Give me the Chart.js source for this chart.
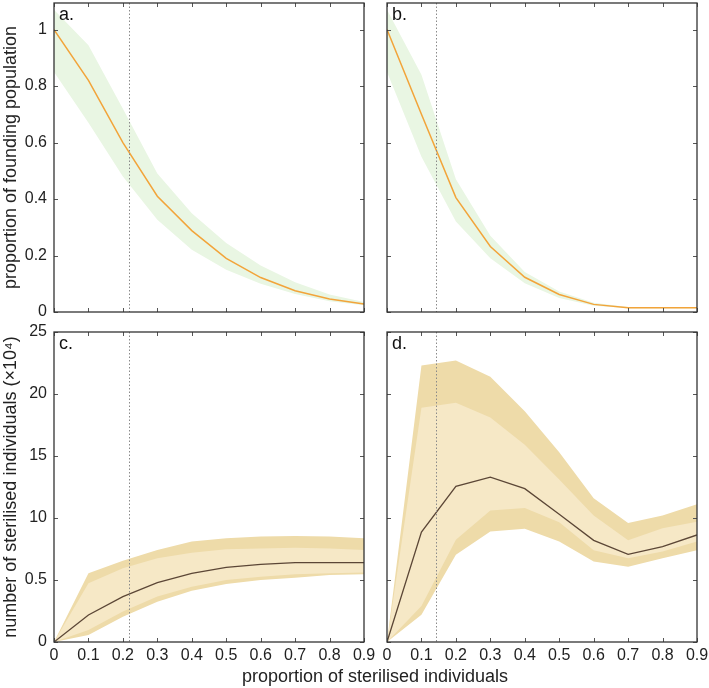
<!DOCTYPE html>
<html>
<head>
<meta charset="utf-8">
<script src="https://cdn.jsdelivr.net/npm/chart.js@4"></script>
<style>
  body { margin: 0; background: #fff; overflow: hidden; width: 709px; height: 688px; position: relative;
         font-family: "Liberation Sans", Arial, sans-serif; }
  canvas { position: absolute; }
  #xtitle { position: absolute; left: 375px; top: 666px; transform: translateX(-50%);
            font-size: 18px; color: #222; white-space: nowrap; }
</style>
</head>
<body>
<canvas id="pa" width="380" height="330" style="left:0;top:0;width:380px;height:330px"></canvas>
<canvas id="pb" width="337" height="330" style="left:372px;top:0;width:337px;height:330px"></canvas>
<canvas id="pc" width="380" height="350" style="left:0;top:320px;width:380px;height:350px"></canvas>
<canvas id="pd" width="337" height="350" style="left:372px;top:320px;width:337px;height:350px"></canvas>
<div id="xtitle">proportion of sterilised individuals</div>
<script>
// proportion of sterilised individuals
const xs = [0, 0.1, 0.2, 0.3, 0.4, 0.5, 0.6, 0.7, 0.8, 0.9];
const xTicks = [0, 0.1, 0.2, 0.3, 0.4, 0.5, 0.6, 0.7, 0.8, 0.9];
const xTickLabels = ['0', '0.1', '0.2', '0.3', '0.4', '0.5', '0.6', '0.7', '0.8', '0.9'];

// top row: proportion of founding population
const yTicksTop = [0, 0.2, 0.4, 0.6, 0.8, 1];
const yTickLabelsTop = ['0', '0.2', '0.4', '0.6', '0.8', '1'];

const aMedian = [1.0, 0.82, 0.6, 0.41, 0.288, 0.19, 0.122, 0.075, 0.046, 0.028];
const aUpper  = [1.07, 0.944, 0.72, 0.49, 0.35, 0.244, 0.165, 0.105, 0.062, 0.035];
const aLower  = [0.85, 0.67, 0.48, 0.327, 0.22, 0.15, 0.1, 0.064, 0.038, 0.024];

const bMedian = [1.0, 0.70, 0.405, 0.232, 0.123, 0.062, 0.027, 0.015, 0.015, 0.015];
const bUpper  = [1.07, 0.84, 0.47, 0.27, 0.142, 0.073, 0.033, 0.018, 0.017, 0.017];
const bLower  = [0.85, 0.55, 0.32, 0.19, 0.102, 0.05, 0.022, 0.013, 0.013, 0.013];

// bottom row: number of sterilised individuals (x10^4)
const yTicksBottom = [0, 5, 10, 15, 20, 25];
const yTickLabelsBottom = ['0', '0.5', '10', '15', '20', '25'];

const cMedian     = [0, 2.18, 3.66, 4.78, 5.54, 6.02, 6.26, 6.4, 6.4, 6.4];
const cOuterUpper = [0, 5.54, 6.56, 7.42, 8.1, 8.36, 8.5, 8.55, 8.5, 8.36];
const cInnerUpper = [0, 4.73, 5.94, 6.75, 7.2, 7.47, 7.55, 7.6, 7.55, 7.42];
const cInnerLower = [0, 0.97, 2.45, 3.66, 4.46, 5.0, 5.27, 5.46, 5.54, 5.6];
const cOuterLower = [0, 0.56, 2.04, 3.25, 4.14, 4.68, 5.0, 5.19, 5.4, 5.46];

const dMedian     = [0, 8.87, 12.55, 13.3, 12.37, 10.3, 8.2, 7.07, 7.7, 8.63];
const dOuterUpper = [0, 22.3, 22.7, 21.4, 18.6, 15.3, 11.6, 9.6, 10.2, 11.1];
const dInnerUpper = [0, 18.9, 19.3, 18.1, 15.9, 13.1, 10.2, 8.2, 9.17, 9.7];
const dInnerLower = [0, 2.9, 8.25, 10.6, 10.8, 9.65, 7.4, 6.75, 7.3, 8.1];
const dOuterLower = [0, 2.2, 7.04, 8.92, 9.14, 8.1, 6.5, 6.07, 6.75, 7.4];

// dotted reference lines
const markA = 0.218, markB = 0.142, markC = 0.218, markD = 0.142;

const FONT = '"Liberation Sans", Arial, sans-serif';
const GREEN = '#e9f6e3', ORANGE = '#f2a43a';
const TAN_DARK = '#eedba9', TAN_LIGHT = '#f6e8c6', BROWN = '#5b4636';

const pts = arr => arr.map((v, i) => ({ x: xs[i], y: v }));

const edge = (data, fill, color, order) => ({
  data: pts(data), fill: fill, backgroundColor: color, borderWidth: 0,
  pointRadius: 0, tension: 0, order: order
});

// frame, inward ticks on all four sides, dotted marker and panel letter
const framePlugin = {
  id: 'frame',
  afterDatasetsDraw(chart, args, opts) {
    const { ctx, chartArea: a, scales: { x, y } } = chart;
    ctx.save();
    // dotted marker
    const mx = Math.round(x.getPixelForValue(opts.mark)) + 0.5;
    ctx.strokeStyle = '#8a8a8a';
    ctx.lineWidth = 1;
    ctx.setLineDash([1.5, 2]);
    ctx.beginPath(); ctx.moveTo(mx, a.top); ctx.lineTo(mx, a.bottom); ctx.stroke();
    ctx.setLineDash([]);
    // ticks
    ctx.strokeStyle = '#555';
    ctx.beginPath();
    xTicks.forEach(v => {
      const px = Math.round(x.getPixelForValue(v)) + 0.5;
      ctx.moveTo(px, a.bottom); ctx.lineTo(px, a.bottom - 4);
      ctx.moveTo(px, a.top); ctx.lineTo(px, a.top + 4);
    });
    opts.yTicks.forEach(v => {
      const py = Math.round(y.getPixelForValue(v)) + 0.5;
      ctx.moveTo(a.left, py); ctx.lineTo(a.left + 4, py);
      ctx.moveTo(a.right, py); ctx.lineTo(a.right - 4, py);
    });
    ctx.stroke();
    // frame
    ctx.strokeStyle = '#333';
    ctx.lineWidth = 1.3;
    ctx.strokeRect(a.left, a.top, a.right - a.left, a.bottom - a.top);
    // letter
    ctx.fillStyle = '#111';
    ctx.font = '18px ' + FONT;
    ctx.textBaseline = 'top';
    ctx.fillText(opts.letter, a.left + 5, a.top + 3);
    ctx.restore();
  }
};

function panel(id, o) {
  new Chart(document.getElementById(id), {
    type: 'line',
    data: { datasets: o.datasets },
    options: {
      responsive: false,
      animation: false,
      layout: { padding: { top: o.padTop, right: o.padRight, left: 0, bottom: 0 } },
      plugins: {
        legend: { display: false },
        tooltip: { enabled: false },
        frame: { mark: o.mark, letter: o.letter, yTicks: o.yTicks }
      },
      scales: {
        x: {
          type: 'linear', min: 0, max: 0.9,
          grid: { display: false, drawTicks: false },
          border: { display: false },
          ticks: {
            display: o.xLabels, padding: 4, color: '#222', maxRotation: 0, autoSkip: false,
            font: { family: FONT, size: 16 },
            callback: (v, i) => xTickLabels[i]
          },
          afterBuildTicks: s => { s.ticks = xTicks.map(v => ({ value: v })); },
          afterFit: s => { s.height = o.xHeight; s.paddingLeft = 0; s.paddingRight = 0; }
        },
        y: {
          type: 'linear', min: 0, max: o.yMax,
          grid: { display: false, drawTicks: false },
          border: { display: false },
          title: {
            display: !!o.yTitle, text: o.yTitle, color: '#222',
            font: { family: FONT, size: 18 }, padding: 0
          },
          ticks: {
            display: o.yLabels, padding: 7, color: '#222',
            font: { family: FONT, size: 16 },
            callback: (v, i) => o.yTickLabels[i]
          },
          afterBuildTicks: s => { s.ticks = o.yTicks.map(v => ({ value: v })); },
          afterFit: s => { s.width = o.yWidth; s.paddingTop = 0; s.paddingBottom = 0; }
        }
      }
    },
    plugins: [framePlugin]
  });
}

const topSets = (med, up, lo) => [
  edge(up, '+1', GREEN, 1),
  edge(lo, false, GREEN, 1),
  { data: pts(med), borderColor: ORANGE, borderWidth: 1.5, pointRadius: 0, tension: 0, fill: false, order: 0 }
];

const bottomSets = (med, ou, iu, il, ol) => [
  edge(ou, '+1', TAN_DARK, 2),
  edge(ol, false, TAN_DARK, 2),
  edge(iu, '+1', TAN_LIGHT, 1),
  edge(il, false, TAN_LIGHT, 1),
  { data: pts(med), borderColor: BROWN, borderWidth: 1.3, pointRadius: 0, tension: 0, fill: false, order: 0 }
];

panel('pa', {
  datasets: topSets(aMedian, aUpper, aLower), letter: 'a.', mark: markA,
  yMax: 1.094, yTicks: yTicksTop, yTickLabels: yTickLabelsTop, yLabels: true,
  yTitle: 'proportion of founding population', yWidth: 54, xLabels: false, xHeight: 18,
  padTop: 3, padRight: 16
});
panel('pb', {
  datasets: topSets(bMedian, bUpper, bLower), letter: 'b.', mark: markB,
  yMax: 1.094, yTicks: yTicksTop, yTickLabels: yTickLabelsTop, yLabels: false,
  yTitle: '', yWidth: 15, xLabels: false, xHeight: 18,
  padTop: 3, padRight: 12
});
panel('pc', {
  datasets: bottomSets(cMedian, cOuterUpper, cInnerUpper, cInnerLower, cOuterLower), letter: 'c.', mark: markC,
  yMax: 25, yTicks: yTicksBottom, yTickLabels: yTickLabelsBottom, yLabels: true,
  yTitle: 'number of sterilised individuals (\u00d710\u2074)', yWidth: 54, xLabels: true, xHeight: 28,
  padTop: 12, padRight: 16
});
panel('pd', {
  datasets: bottomSets(dMedian, dOuterUpper, dInnerUpper, dInnerLower, dOuterLower), letter: 'd.', mark: markD,
  yMax: 25, yTicks: yTicksBottom, yTickLabels: yTickLabelsBottom, yLabels: false,
  yTitle: '', yWidth: 15, xLabels: true, xHeight: 28,
  padTop: 12, padRight: 12
});
</script>
</body>
</html>
